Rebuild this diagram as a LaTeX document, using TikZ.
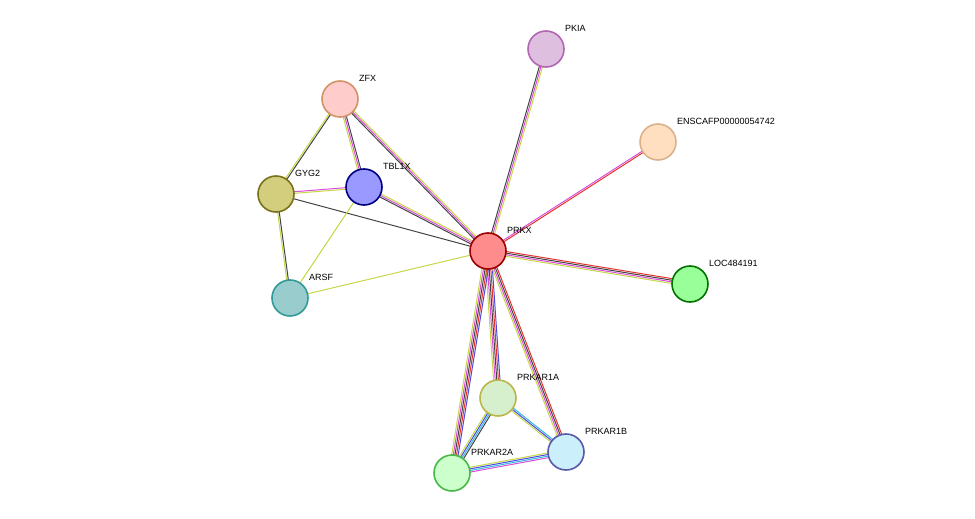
\documentclass[tikz,border=0pt]{standalone}
\usepackage{fontspec}
\setmainfont{Liberation Sans}
\usetikzlibrary{calc,backgrounds}
\definecolor{tm}{HTML}{C8D64A}
\definecolor{co}{HTML}{444444}
\definecolor{ex}{HTML}{D94FD9}
\definecolor{ne}{HTML}{E8322E}
\definecolor{db}{HTML}{4A4AE0}
\definecolor{hb}{HTML}{36B8E0}
\tikzset{
	prot/.style={circle, minimum size=36pt, line width=1.6pt, inner sep=0pt},
	lbl/.style={anchor=west, font=\fontsize{9}{10}\selectfont, inner sep=0pt},
}
\newcommand{\link}[4] % from, to, count, colours
{
	\foreach \c [count=\i] in {#4}
	{
		\pgfmathsetmacro{\off}{(\i-(#3+1)/2)*1.6}
		\draw[\c, line width=1pt] ($(#1)!\off pt!90:(#2)$) -- ($(#2)!\off pt!-90:(#1)$);
	}
}
\newcommand{\prot}[5] % name, x, y, fill, border
{
	\node[prot, fill=#4, draw=#5] (#1) at (#2,#3) {};
}
\begin{document}
\begin{tikzpicture}[x=1pt, y=-1pt]
	\useasboundingbox (0,0) rectangle (975,519);
	% proteins
	\prot{prkx}{488}{251}{red!45}{red!60!black}
	\prot{pkia}{546}{49}{violet!25}{violet!60}
	\prot{enscafp}{658}{142}{orange!25}{brown!60}
	\prot{loc}{690}{284}{green!40!white}{green!45!black}
	\prot{zfx}{340}{99}{pink!80}{brown!70!pink}
	\prot{tbl}{364}{187}{blue!40}{blue!50!black}
	\prot{gyg}{276}{194}{olive!40}{olive!80!black}
	\prot{arsf}{290}{298}{teal!40}{teal!80}
	\prot{rxa}{498}{398}{yellow!20!green!20}{olive!60}
	\prot{rxb}{566}{452}{cyan!20}{blue!30!gray}
	\prot{rxc}{452}{473}{green!20}{green!45!gray}
	% labels
	\node[lbl] at ($(prkx)+(19,-21)$) {PRKX};
	\node[lbl] at ($(pkia)+(19,-21)$) {PKIA};
	\node[lbl] at ($(enscafp)+(19,-21)$) {ENSCAFP00000054742};
	\node[lbl] at ($(loc)+(19,-21)$) {LOC484191};
	\node[lbl] at ($(zfx)+(19,-21)$) {ZFX};
	\node[lbl] at ($(tbl)+(19,-21)$) {TBL1X};
	\node[lbl] at ($(gyg)+(19,-21)$) {GYG2};
	\node[lbl] at ($(arsf)+(19,-21)$) {ARSF};
	\node[lbl] at ($(rxa)+(19,-21)$) {PRKAR1A};
	\node[lbl] at ($(rxb)+(19,-21)$) {PRKAR1B};
	\node[lbl] at ($(rxc)+(19,-21)$) {PRKAR2A};
	% links
	\begin{scope}[on background layer]
		\link{prkx}{pkia}{3}{tm,ex,co}
		\link{prkx}{enscafp}{2}{ne,ex}
		\link{prkx}{loc}{4}{tm,ex,co,ne}
		\link{prkx}{zfx}{3}{tm,ex,co}
		\link{prkx}{tbl}{3}{tm,ex,co}
		\link{prkx}{gyg}{1}{co}
		\link{prkx}{arsf}{1}{tm}
		\link{prkx}{rxa}{5}{tm,ex,co,ne,db}
		\link{prkx}{rxb}{4}{tm,ex,co,ne}
		\link{prkx}{rxc}{5}{tm,ex,co,ne,db}
		\link{zfx}{gyg}{2}{tm,co}
		\link{zfx}{tbl}{3}{tm,ex,co}
		\link{gyg}{tbl}{2}{tm,ex}
		\link{gyg}{arsf}{2}{tm,co}
		\link{tbl}{arsf}{1}{tm}
		\link{rxa}{rxb}{3}{tm,db,hb}
		\link{rxa}{rxc}{4}{tm,db,hb,co}
		\link{rxb}{rxc}{4}{tm,db,hb,ex}
	\end{scope}
\end{tikzpicture}
\end{document}
